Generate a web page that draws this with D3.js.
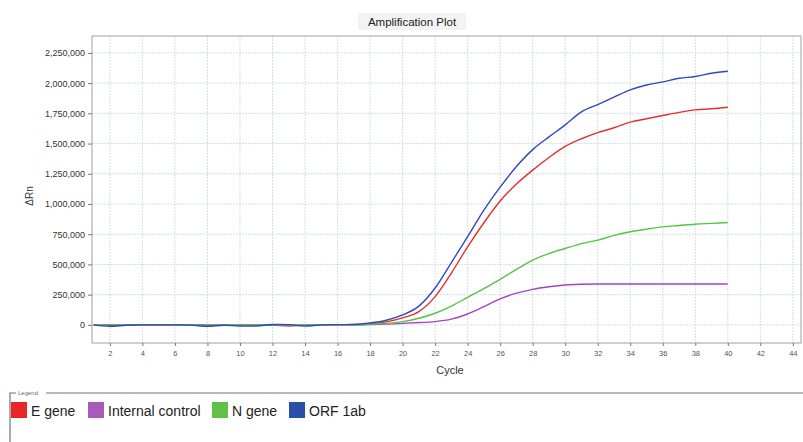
<!DOCTYPE html>
<html>
<head>
<meta charset="utf-8">
<script src="https://cdn.jsdelivr.net/npm/d3@7"></script>
<style>
  body { margin: 0; background: #fff; }
  svg text { font-family: "Liberation Sans", Arial, sans-serif; }
</style>
</head>
<body>
<script>
const width = 803;
const height = 442;

// cycle numbers 1..40
const cycles = d3.range(1, 41);

// ΔRn values, one per cycle
const eGene = [0, -3000, -2000, 0, 0, 0, 0, -2000, -3000, -3000, -3000, -2000, -10000, -3000, 0, 2000, 3000, 8000, 25000, 58000,
    110000, 234000, 429000, 646000, 845000, 1025000, 1165000, 1280000, 1385000, 1477000,
    1540000, 1590000, 1631000, 1677000, 1705000, 1732000, 1758000, 1779000, 1788000, 1801000];
const internalControl = [0, 0, 0, 0, 0, 0, 0, 0, 0, 0, 0, 0, 0, 0, 0, 0, 0, 2000, 6000, 12000,
    19000, 27000, 47000, 90000, 150000, 215000, 262000, 294000, 315000, 330000,
    336000, 338000, 338000, 338000, 338000, 338000, 338000, 338000, 338000, 338000];
const nGene = [0, 0, 0, 0, 0, 0, 0, 0, 0, 0, 0, 0, 0, 0, 0, 0, 0, 5000, 12000, 27000,
    55000, 96000, 155000, 228000, 300000, 377000, 459000, 536000, 590000, 632000,
    672000, 701000, 740000, 770000, 792000, 811000, 822000, 833000, 840000, 847000];
const orf1ab = [0, -12000, -3000, 0, 0, 0, -2000, -12000, -3000, -10000, -10000, 3000, 2000, -10000, 0, 2000, 3000, 15000, 38000, 82000,
    155000, 305000, 515000, 730000, 950000, 1140000, 1310000, 1450000, 1555000, 1655000,
    1762000, 1822000, 1884000, 1944000, 1985000, 2010000, 2040000, 2055000, 2082000, 2098000];

const seriesNames = ["E gene", "Internal control", "N gene", "ORF 1ab"];
const lineColours = ["#e2302f", "#a544c0", "#55c444", "#3049c0"];
const swatchColours = ["#e8262a", "#a959b8", "#62c04a", "#2a4fa8"];

const xTicks = d3.range(2, 45, 2);
const yTicks = [0, 250000, 500000, 750000, 1000000, 1250000, 1500000, 1750000, 2000000, 2250000];

const margin = { top: 36, right: 2, bottom: 99, left: 92 };

const svg = d3.select("body").append("svg")
    .attr("width", width)
    .attr("height", height);

const x = d3.scaleLinear()
    .domain([0.9, 44.5])
    .range([margin.left, width - margin.right]);

const y = d3.scaleLinear()
    .domain([-150000, 2390000])
    .range([height - margin.bottom, margin.top]);

// title
svg.append("rect")
    .attr("x", 358).attr("y", 13)
    .attr("width", 108).attr("height", 17)
    .attr("fill", "#f3f3f3");
svg.append("text")
    .attr("x", 412).attr("y", 26)
    .attr("text-anchor", "middle")
    .attr("font-size", 11.5)
    .attr("fill", "#222")
    .text("Amplification Plot");

// grid
const grid = svg.append("g");
grid.selectAll(".vg").data(xTicks).join("line")
    .attr("x1", d => x(d)).attr("x2", d => x(d))
    .attr("y1", margin.top).attr("y2", height - margin.bottom)
    .attr("stroke", "#d5dde6")
    .attr("stroke-dasharray", "2,1");
grid.selectAll(".hg").data(yTicks).join("line")
    .attr("x1", margin.left).attr("x2", width - margin.right)
    .attr("y1", d => y(d)).attr("y2", d => y(d))
    .attr("stroke", "#d5dde6")
    .attr("stroke-dasharray", "2,1");

// frame
svg.append("rect")
    .attr("x", margin.left).attr("y", margin.top)
    .attr("width", width - margin.right - margin.left)
    .attr("height", height - margin.bottom - margin.top)
    .attr("fill", "none")
    .attr("stroke", "#a0a0a0");

// axes
const xAxis = svg.append("g")
    .attr("transform", `translate(0,${height - margin.bottom})`)
    .call(d3.axisBottom(x).tickValues(xTicks).tickSize(3).tickPadding(5));
xAxis.select(".domain").remove();
xAxis.selectAll("text").attr("font-size", 7.5).attr("fill", "#555");
xAxis.selectAll("line").attr("stroke", "#777");

const yAxis = svg.append("g")
    .attr("transform", `translate(${margin.left},0)`)
    .call(d3.axisLeft(y).tickValues(yTicks).tickFormat(d3.format(",")).tickSize(4).tickPadding(3));
yAxis.select(".domain").remove();
yAxis.selectAll("text").attr("font-size", 9).attr("fill", "#333");
yAxis.selectAll("line").attr("stroke", "#777");

svg.append("text")
    .attr("transform", "translate(33,196) rotate(-90)")
    .attr("text-anchor", "middle")
    .attr("font-size", 10)
    .attr("fill", "#333")
    .text("ΔRn");

svg.append("text")
    .attr("x", 450).attr("y", 374)
    .attr("text-anchor", "middle")
    .attr("font-size", 11)
    .attr("fill", "#333")
    .text("Cycle");

// curves
const allSeries = [eGene, internalControl, nGene, orf1ab];
const line = d3.line()
    .x((d, i) => x(cycles[i]))
    .y(d => y(d))
    .curve(d3.curveMonotoneX);

svg.append("g").selectAll("path").data(allSeries).join("path")
    .attr("d", d => line(d))
    .attr("fill", "none")
    .attr("stroke", (d, i) => lineColours[i])
    .attr("stroke-width", 1.4);

// legend box
const lg = svg.append("g");
lg.append("path")
    .attr("d", `M10,442 V393 H16 M46,393 H${width}`)
    .attr("fill", "none")
    .attr("stroke", "#6a7585")
    .attr("stroke-width", 1.2);
lg.append("text")
    .attr("x", 18).attr("y", 395)
    .attr("font-size", 6)
    .attr("fill", "#5a6a88")
    .text("Legend");

const itemX = [11, 88, 212, 289];
const items = lg.selectAll(".item").data(seriesNames).join("g")
    .attr("transform", (d, i) => `translate(${itemX[i]},402)`);
items.append("rect")
    .attr("width", 16).attr("height", 16)
    .attr("fill", (d, i) => swatchColours[i]);
items.append("text")
    .attr("x", 20).attr("y", 14)
    .attr("font-size", 14)
    .attr("fill", "#222")
    .text(d => d);
</script>
</body>
</html>
